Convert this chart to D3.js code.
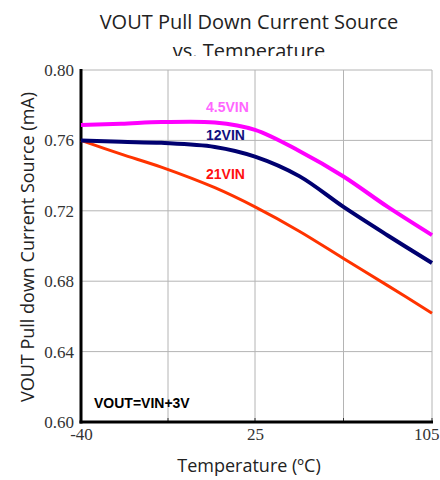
<!DOCTYPE html>
<html><head><meta charset="utf-8">
<script src="https://cdn.jsdelivr.net/npm/d3@7"></script>
<style>html,body{margin:0;padding:0;background:#fff;}svg{display:block;}</style>
</head><body>
<script>
const temps = [-40, -25, -10, 10, 25, 45, 65, 85, 105];
const v45 = [0.7688, 0.7694, 0.7704, 0.7702, 0.7660, 0.7540, 0.7395, 0.7222, 0.7062];
const v12 = [0.7600, 0.7592, 0.7586, 0.7563, 0.7508, 0.7397, 0.7222, 0.7060, 0.6903];
const v21 = [0.7600, 0.7522, 0.7448, 0.7331, 0.7222, 0.7084, 0.6929, 0.6775, 0.6618];
const seriesNames = ["4.5VIN", "12VIN", "21VIN"];
const yTicks = [0.60, 0.64, 0.68, 0.72, 0.76, 0.80];
const xTickLabels = [-40, 25, 105];
const xGrid = [-7.5, 25, 65, 105];

const W = 440, H = 480;
const svg = d3.select("body").append("svg").attr("width", W).attr("height", H);
const x = d3.scaleLinear().domain([-40, 25, 105]).range([81, 255, 432]);
const y = d3.scaleLinear().domain([0.60, 0.80]).range([422, 70]);

// clip for title (second line is cut in the reference)
svg.append("clipPath").attr("id", "tclip").append("rect").attr("x", 0).attr("y", 0).attr("width", W).attr("height", 56);
const tg = svg.append("g").attr("clip-path", "url(#tclip)")
  .style("font-family", "'Open Sans', sans-serif").style("font-size", "20px").attr("fill", "#222");
tg.append("text").attr("x", 249).attr("y", 29).attr("text-anchor", "middle").text("VOUT Pull Down Current Source");
tg.append("text").attr("x", 249).attr("y", 58).attr("text-anchor", "middle").text("vs. Temperature");

// gridlines
const grid = svg.append("g").attr("stroke", "#b4b4b4").attr("stroke-width", 1);
grid.selectAll("line.h").data(yTicks.slice(1)).join("line")
  .attr("x1", x(-40)).attr("x2", x(105)).attr("y1", d => y(d)).attr("y2", d => y(d));
grid.selectAll("line.v").data(xGrid).join("line")
  .attr("y1", y(0.80)).attr("y2", y(0.60)).attr("x1", d => x(d)).attr("x2", d => x(d));

// axes
const yAxis = d3.axisLeft(y).tickValues(yTicks).tickFormat(d3.format(".2f")).tickSize(0).tickPadding(7);
const ya = svg.append("g").attr("transform", `translate(${x(-40)},0)`).call(yAxis);
ya.select(".domain").remove();
ya.selectAll("text").style("font-family", "'Liberation Serif', 'Times New Roman', serif").style("font-size", "17px").attr("fill", "#333");

const xAxis = d3.axisBottom(x).tickValues(xTickLabels).tickFormat(d => String(d)).tickSize(0).tickPadding(6);
const xa = svg.append("g").attr("transform", `translate(0,${y(0.60)})`).call(xAxis);
xa.select(".domain").remove();
xa.selectAll("text").style("font-family", "'Liberation Serif', 'Times New Roman', serif").style("font-size", "17px").attr("fill", "#333");
xa.selectAll(".tick").filter(d => d === 105).select("text").attr("text-anchor", "end").attr("x", 7);

// small tick marks at bottom
svg.append("g").selectAll("line").data(xGrid).join("line")
  .attr("x1", d => x(d)).attr("x2", d => x(d)).attr("y1", y(0.60) - 4).attr("y2", y(0.60))
  .attr("stroke", "#333").attr("stroke-width", 1);

// main axis lines
svg.append("line").attr("x1", x(-40)).attr("x2", x(-40)).attr("y1", y(0.80) - 1).attr("y2", y(0.60) + 1.5)
  .attr("stroke", "#000").attr("stroke-width", 3);
svg.append("line").attr("x1", x(-40) - 1.5).attr("x2", x(105) + 1).attr("y1", y(0.60)).attr("y2", y(0.60))
  .attr("stroke", "#000").attr("stroke-width", 3);

// lines
const line = d3.line().x((d, i) => x(temps[i])).y(d => y(d)).curve(d3.curveCatmullRom.alpha(0.5));
const series = [
  {vals: v21, color: "#ff3300", w: 3},
  {vals: v12, color: "#000070", w: 4},
  {vals: v45, color: "#ff00ff", w: 4}
];
svg.append("g").selectAll("path").data(series).join("path")
  .attr("d", d => line(d.vals)).attr("fill", "none")
  .attr("stroke", d => d.color).attr("stroke-width", d => d.w).attr("stroke-linecap", "butt");

// labels
const lab = svg.append("g").style("font-family", "'Liberation Sans', Arial, sans-serif")
  .style("font-size", "14px").style("font-weight", "bold");
lab.append("text").attr("x", 206).attr("y", 112).attr("fill", "#ff66ff").text(seriesNames[0]);
lab.append("text").attr("x", 206).attr("y", 140).attr("fill", "#101080").text(seriesNames[1]);
lab.append("text").attr("x", 206).attr("y", 179).attr("fill", "#ff1010").text(seriesNames[2]);
lab.append("text").attr("x", 94).attr("y", 408).attr("fill", "#000").text("VOUT=VIN+3V");

// axis titles
svg.append("text").attr("x", 249).attr("y", 472).attr("text-anchor", "middle")
  .style("font-family", "'Open Sans', sans-serif").style("font-size", "18px").attr("fill", "#222")
  .text("Temperature (ºC)");
svg.append("text").attr("transform", `translate(34,247) rotate(-90)`).attr("text-anchor", "middle")
  .style("font-family", "'Open Sans', sans-serif").style("font-size", "18px").attr("fill", "#222")
  .text("VOUT Pull down Current Source (mA)");
</script>
</body></html>
